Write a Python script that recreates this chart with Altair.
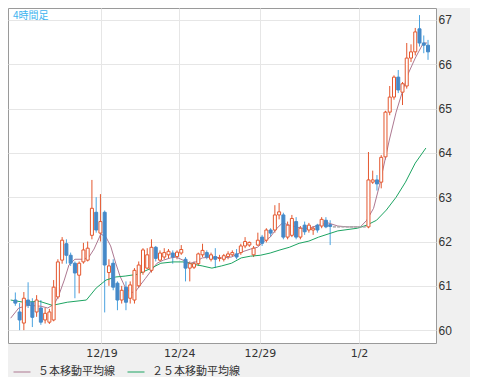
import altair as alt
import pandas as pd

# ---- data (4-hour candles) ----
opens = [60.68, 60.41, 60.16, 60.68, 60.63, 60.41, 60.50, 60.23, 60.18, 60.23,
         60.75, 61.58, 61.95, 61.69, 61.51, 61.24, 61.54, 61.58, 62.14, 62.66,
         62.19, 62.66, 61.30, 61.51, 61.06, 60.68, 60.97, 60.72, 60.68, 61.00,
         61.31, 61.40, 61.35, 61.87, 61.58, 61.65, 61.70, 61.74, 61.66, 61.74,
         61.60, 61.40, 61.42, 61.50, 61.70, 61.75, 61.60, 61.66, 61.62, 61.60,
         61.66, 61.70, 61.72, 61.75, 61.90, 61.92, 61.70, 61.92, 62.10, 62.03,
         62.26, 62.26, 62.60, 62.60, 62.10, 62.14, 62.45, 62.10, 62.37, 62.26,
         62.26, 62.37, 62.35, 62.48, 62.38, 62.33, 62.33, 62.33, 62.33, 62.33,
         62.33, 62.33, 62.33, 62.33, 63.34, 63.39, 63.34, 63.91, 64.92, 65.26,
         65.71, 65.37, 65.51, 66.14, 66.28, 66.80, 66.48, 66.43]
highs = [60.85, 60.61, 60.86, 61.08, 60.72, 60.79, 60.68, 60.50, 60.48, 61.13,
         61.60, 62.10, 62.05, 61.75, 61.55, 61.55, 61.97, 62.00, 63.39, 63.00,
         63.07, 62.70, 61.60, 61.60, 61.10, 61.00, 61.10, 61.10, 61.40, 61.55,
         61.85, 61.85, 62.05, 61.90, 61.80, 61.85, 61.83, 61.80, 61.80, 61.92,
         61.65, 61.55, 61.55, 61.75, 61.95, 61.80, 61.75, 61.85, 61.70, 61.72,
         61.78, 61.80, 61.83, 61.95, 62.10, 62.00, 61.90, 62.20, 62.15, 62.30,
         62.30, 62.82, 62.87, 62.65, 62.45, 62.60, 62.55, 62.35, 62.45, 62.42,
         62.35, 62.40, 62.55, 62.55, 62.48, 62.33, 62.33, 62.33, 62.33, 62.33,
         62.33, 62.33, 62.33, 64.02, 63.60, 63.50, 63.95, 64.95, 65.51, 65.75,
         65.87, 65.60, 66.48, 66.45, 66.82, 67.11, 66.65, 66.55]
lows = [60.55, 60.00, 60.00, 60.50, 60.07, 60.30, 60.12, 60.15, 60.14, 60.20,
        60.70, 61.50, 61.50, 61.45, 60.72, 60.83, 61.50, 61.55, 62.05, 62.20,
        62.00, 60.40, 61.00, 60.90, 60.45, 60.60, 60.45, 60.60, 60.60, 60.95,
        61.25, 61.38, 61.30, 61.55, 61.55, 61.60, 61.62, 61.50, 61.60, 61.70,
        61.10, 61.10, 61.38, 61.45, 61.65, 61.60, 61.55, 61.40, 61.55, 61.55,
        61.60, 61.65, 61.60, 61.70, 61.85, 61.88, 61.65, 61.90, 61.90, 61.98,
        62.10, 62.20, 62.50, 62.05, 62.05, 62.10, 62.05, 62.05, 62.15, 62.20,
        62.15, 62.20, 62.30, 62.30, 61.92, 62.33, 62.33, 62.33, 62.33, 62.33,
        62.33, 62.33, 62.33, 62.30, 63.30, 63.15, 63.20, 63.85, 64.85, 65.20,
        65.35, 65.08, 65.45, 66.05, 66.20, 66.40, 66.25, 66.10]
closes = [60.61, 60.23, 60.72, 60.56, 60.29, 60.68, 60.18, 60.38, 60.41, 60.97,
          61.54, 62.03, 61.69, 61.51, 61.29, 61.51, 61.81, 61.85, 62.75, 62.26,
          62.45, 61.47, 61.45, 60.97, 60.68, 60.90, 60.63, 61.02, 61.35, 61.47,
          61.81, 61.70, 61.87, 61.62, 61.74, 61.75, 61.78, 61.65, 61.76, 61.82,
          61.40, 61.50, 61.50, 61.72, 61.80, 61.65, 61.70, 61.60, 61.63, 61.68,
          61.72, 61.75, 61.65, 61.90, 62.00, 61.98, 61.85, 62.03, 61.96, 62.26,
          62.19, 62.60, 62.67, 62.10, 62.37, 62.52, 62.10, 62.30, 62.22, 62.37,
          62.30, 62.26, 62.50, 62.33, 62.34, 62.33, 62.33, 62.33, 62.33, 62.33,
          62.33, 62.33, 62.33, 63.39, 63.39, 63.30, 63.90, 64.92, 65.26, 65.71,
          65.42, 65.56, 66.14, 66.28, 66.73, 66.48, 66.43, 66.28]

ma5_idx = [-1.1, 0.8, 3.1, 6.0, 7.6, 9.2, 10.3, 11.5, 12.6, 14.0, 16.0, 17.3, 18.5,
           20.1, 21.3, 22.4, 23.6, 24.6, 25.8, 27.1, 28.3, 29.4, 30.6, 32.0, 33.3,
           34.8, 36.5, 37.8, 39.4, 41.1, 42.4, 43.9, 46.2, 48.5, 50.8, 53.1, 55.3,
           56.9, 58.3, 59.9, 61.5, 62.8, 64.4, 66.0, 67.4, 69.0, 71.3, 73.5, 75.8,
           78.1, 81.1, 82.6, 84.2, 85.6, 87.9, 89.5, 91.1, 92.4, 94.0, 95.9, 96.8]
ma5_val = [60.27, 60.50, 60.56, 60.54, 60.50, 60.59, 60.81, 61.13, 61.47, 61.60, 61.60,
           61.65, 61.83, 62.17, 62.10, 61.90, 61.51, 61.22, 60.97, 60.84, 60.88, 61.02,
           61.17, 61.35, 61.51, 61.58, 61.63, 61.65, 61.58, 61.51, 61.54, 61.63, 61.65,
           61.63, 61.65, 61.76, 61.83, 61.87, 61.99, 62.10, 62.30, 62.42, 62.37, 62.33,
           62.30, 62.30, 62.37, 62.42, 62.35, 62.33, 62.33, 62.48, 62.75, 63.27, 64.29,
           64.92, 65.42, 65.80, 66.14, 66.48, 66.48]
ma25_idx = [-1.1, 1.9, 5.7, 8.7, 12.2, 16.7, 19.0, 21.3, 23.6, 25.8, 28.7, 32.0, 34.2,
            37.1, 39.4, 41.7, 43.9, 46.2, 48.5, 50.8, 53.1, 55.3, 57.6, 59.9, 62.2,
            64.4, 66.7, 69.0, 71.3, 75.8, 80.4, 82.6, 84.9, 87.2, 89.5, 91.7, 94.0, 96.5]
ma25_val = [60.68, 60.63, 60.65, 60.56, 60.63, 60.68, 60.95, 61.13, 61.20, 61.22, 61.26,
            61.40, 61.51, 61.54, 61.54, 61.49, 61.45, 61.40, 61.45, 61.51, 61.63, 61.67,
            61.69, 61.74, 61.81, 61.87, 61.96, 62.01, 62.10, 62.24, 62.30, 62.37, 62.48,
            62.71, 63.00, 63.34, 63.77, 64.11]

tick_pos = [20.25, 38.52, 57.47, 80.77]
tick_labels = ["12/19", "12/24", "12/29", "1/2"]
y_ticks = [60, 61, 62, 63, 64, 65, 66, 67]
series_names = ["５本移動平均線", "２５本移動平均線"]
frame_label = "4時間足"

# ---- tables ----
n = len(closes)
candles = pd.DataFrame({"i": list(range(n)), "o": opens, "h": highs, "l": lows, "c": closes})
candles["top"] = candles[["o", "c"]].max(axis=1)
candles["bot"] = candles[["o", "c"]].min(axis=1)
candles["dir"] = ["up" if c > o else ("down" if c < o else "flat") for o, c in zip(opens, closes)]

ma = pd.concat([
    pd.DataFrame({"i": ma5_idx, "v": ma5_val, "s": series_names[0], "k": 0}),
    pd.DataFrame({"i": ma25_idx, "v": ma25_val, "s": series_names[1], "k": 1}),
])

UP = "#e4572e"
DOWN = "#4589c8"
DOWN_WICK = "#4aa3e0"
FLAT = "#a8a8a8"

labels_js = "[" + ",".join("'%s'" % t for t in tick_labels) + "]"
vals_js = "[" + ",".join(str(v) for v in tick_pos) + "]"

xscale = alt.Scale(domain=[-0.55, 97.7], nice=False, zero=False)
yscale = alt.Scale(domain=[59.71, 67.27], nice=False, zero=False)

x_enc = alt.X("i:Q", scale=xscale, title=None,
              axis=alt.Axis(values=tick_pos, labelExpr=f"{labels_js}[indexof({vals_js}, datum.value)]",
                            grid=True, gridColor="#e6e6e6", ticks=False, domain=False,
                            labelPadding=4, labelFont="DejaVu Sans", labelFontSize=11,
                            labelColor="#333333", labelFlush=False))

base = alt.Chart(candles)

def wick(d, color):
    return base.transform_filter(alt.datum.dir == d).mark_rule(color=color, strokeWidth=1).encode(
        x=x_enc,
        y=alt.Y("l:Q", scale=yscale, title=None,
                axis=alt.Axis(orient="right", values=y_ticks, grid=True, gridColor="#e6e6e6",
                              ticks=False, domain=False, labelPadding=2,
                              labelFont="Liberation Sans", labelFontSize=12, labelColor="#333333")),
        y2="h:Q")

def body(d, fill, stroke):
    return base.transform_filter(alt.datum.dir == d).mark_bar(
        size=3, fill=fill, stroke=stroke, strokeWidth=1).encode(
        x="i:Q", y="bot:Q", y2="top:Q")

lines = alt.Chart(ma).mark_line(strokeWidth=1, clip=True).encode(
    x="i:Q", y="v:Q",
    color=alt.Color("s:N", scale=alt.Scale(domain=series_names, range=["#ad7891", "#1da462"]),
                    legend=alt.Legend(title=None, orient="none", legendX=5, legendY=355,
                                      direction="horizontal", symbolType="stroke",
                                      symbolSize=289, symbolStrokeWidth=1, labelOffset=7,
                                      columnPadding=10, padding=0,
                                      labelFont="Noto Sans CJK JP", labelFontSize=11,
                                      labelColor="#333333")),
    detail="k:N", order="i:Q")

label = alt.Chart(pd.DataFrame({"t": [frame_label]})).mark_text(
    align="left", baseline="middle", color="#3db4ef", fontSize=10, font="Noto Sans CJK JP").encode(
    text="t:N", x=alt.value(5), y=alt.value(8))

chart = alt.layer(
    wick("up", UP), wick("down", DOWN_WICK), wick("flat", FLAT),
    lines,
    body("up", "white", UP), body("down", DOWN, DOWN), body("flat", FLAT, FLAT),
    label,
).properties(
    width=428, height=335,
    autosize=alt.AutoSizeParams(type="none"),
    padding={"left": 0, "top": 0, "right": 34, "bottom": 34},
    background="#f0f0f0",
).configure_view(fill="white", stroke="#9a9a9a", strokeWidth=1)

chart.save("out.html", embed_options={"renderer": "svg", "actions": False})
